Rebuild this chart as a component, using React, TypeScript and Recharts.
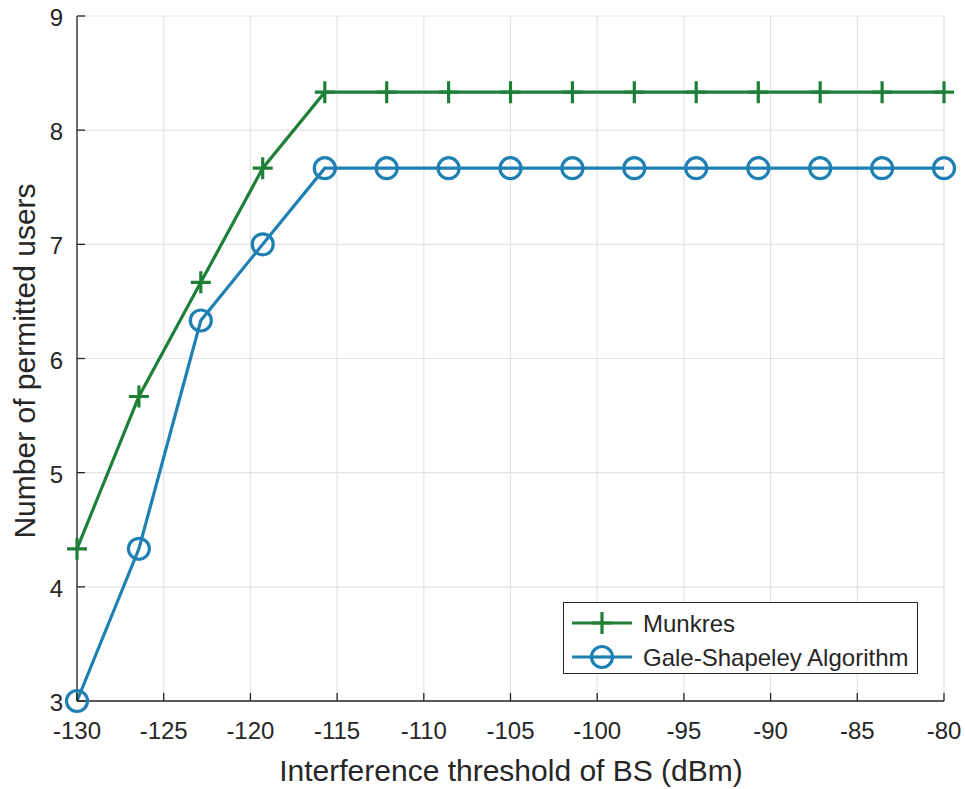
import React from 'react';
import { LineChart, Line, XAxis, YAxis, CartesianGrid, Legend, Label } from 'recharts';

const thresholds = [-130, -126.43, -122.86, -119.29, -115.71, -112.14, -108.57, -105, -101.43, -97.86, -94.29, -90.71, -87.14, -83.57, -80];
const munkres = [4.333, 5.667, 6.667, 7.667, 8.333, 8.333, 8.333, 8.333, 8.333, 8.333, 8.333, 8.333, 8.333, 8.333, 8.333];
const galeShapley = [3, 4.333, 6.333, 7, 7.667, 7.667, 7.667, 7.667, 7.667, 7.667, 7.667, 7.667, 7.667, 7.667, 7.667];
const xTicks = [-130, -125, -120, -115, -110, -105, -100, -95, -90, -85, -80];
const yTicks = [3, 4, 5, 6, 7, 8, 9];

const seriesNames = ['Munkres', 'Gale-Shapeley Algorithm'];
const GREEN = '#1e8038';
const BLUE = '#1f80b3';
const AXIS = '#262626';
const FONT = '"Liberation Sans", Arial, Helvetica, sans-serif';

const data = thresholds.map((x, i) => ({ x, m: munkres[i], g: galeShapley[i] }));

const PlusDot = (props: any) => {
  const { cx, cy, index } = props;
  if (cx == null || cy == null) return <g key={index} />;
  return (
    <path key={index} d={`M${cx - 10},${cy} L${cx + 10},${cy} M${cx},${cy - 11} L${cx},${cy + 11}`} stroke={GREEN} strokeWidth={3.2} fill="none" />
  );
};

const CircleDot = (props: any) => {
  const { cx, cy, index } = props;
  if (cx == null || cy == null) return <g key={index} />;
  return <circle key={index} cx={cx} cy={cy} r={10.5} stroke={BLUE} strokeWidth={3.2} fill="none" />;
};

const XTick = (props: any) => {
  const { x, y, payload } = props;
  return (
    <g>
      <line x1={x} x2={x} y1={y} y2={y - 8} stroke={AXIS} strokeWidth={1.3} />
      <text x={x} y={y + 38} textAnchor="middle" fill={AXIS} fontSize={24} fontFamily={FONT}>
        {payload.value}
      </text>
    </g>
  );
};

const YTick = (props: any) => {
  const { x, y, payload } = props;
  return (
    <g>
      <line x1={x} x2={x + 8} y1={y} y2={y} stroke={AXIS} strokeWidth={1.3} />
      <text x={x - 14} y={y + 10} textAnchor="end" fill={AXIS} fontSize={24} fontFamily={FONT}>
        {payload.value}
      </text>
    </g>
  );
};

const LegendBox = () => (
  <div style={{ width: 355, height: 72, boxSizing: 'border-box', border: `1.5px solid ${AXIS}`, background: '#fff' }}>
    <svg width={352} height={69} style={{ display: 'block' }}>
      <line x1={8} x2={68} y1={20} y2={20} stroke={GREEN} strokeWidth={3.2} />
      <path d="M28,20 L48,20 M38,9 L38,31" stroke={GREEN} strokeWidth={3.2} fill="none" />
      <text x={79} y={29} fill={AXIS} fontSize={24} fontFamily={FONT}>{seriesNames[0]}</text>
      <line x1={8} x2={68} y1={54} y2={54} stroke={BLUE} strokeWidth={3.2} />
      <circle cx={38} cy={54} r={10.5} stroke={BLUE} strokeWidth={3.2} fill="#fff" />
      <line x1={27} x2={49} y1={54} y2={54} stroke={BLUE} strokeWidth={3.2} />
      <text x={79} y={63} fill={AXIS} fontSize={24} fontFamily={FONT}>{seriesNames[1]}</text>
    </svg>
  </div>
);

export default function App() {
  return (
    <div style={{ position: 'absolute', left: 0, top: 0, background: '#fff' }}>
      <LineChart width={965} height={789} data={data} margin={{ top: 16, right: 21, left: 0, bottom: 0 }}>
        <CartesianGrid stroke="#e3e3e3" strokeWidth={1.2} />
        <XAxis
          type="number"
          dataKey="x"
          domain={[-130, -80]}
          ticks={xTicks}
          interval={0}
          height={88}
          tickSize={0}
          tickMargin={0}
          tick={<XTick />}
          stroke={AXIS}
          strokeWidth={1.3}
        >
          <Label
            content={() => (
              <text x={511} y={781} textAnchor="middle" fill={AXIS} fontSize={30} fontFamily={FONT}>
                Interference threshold of BS (dBm)
              </text>
            )}
          />
        </XAxis>
        <YAxis
          type="number"
          domain={[3, 9]}
          ticks={yTicks}
          interval={0}
          width={77}
          tickSize={0}
          tickMargin={0}
          tick={<YTick />}
          stroke={AXIS}
          strokeWidth={1.3}
        >
          <Label
            content={() => (
              <text x={35} y={361} transform="rotate(-90, 35, 361)" textAnchor="middle" fill={AXIS} fontSize={30} fontFamily={FONT}>
                Number of permitted users
              </text>
            )}
          />
        </YAxis>
        <Line type="linear" dataKey="m" name={seriesNames[0]} stroke={GREEN} strokeWidth={3.2} dot={PlusDot} activeDot={false} isAnimationActive={false} />
        <Line type="linear" dataKey="g" name={seriesNames[1]} stroke={BLUE} strokeWidth={3.2} dot={CircleDot} activeDot={false} isAnimationActive={false} />
        <Legend
          layout="vertical"
          align="center"
          verticalAlign="middle"
          content={<LegendBox />}
          wrapperStyle={{ position: 'absolute', left: 563, top: 602, width: 355, height: 72 }}
        />
      </LineChart>
    </div>
  );
}
